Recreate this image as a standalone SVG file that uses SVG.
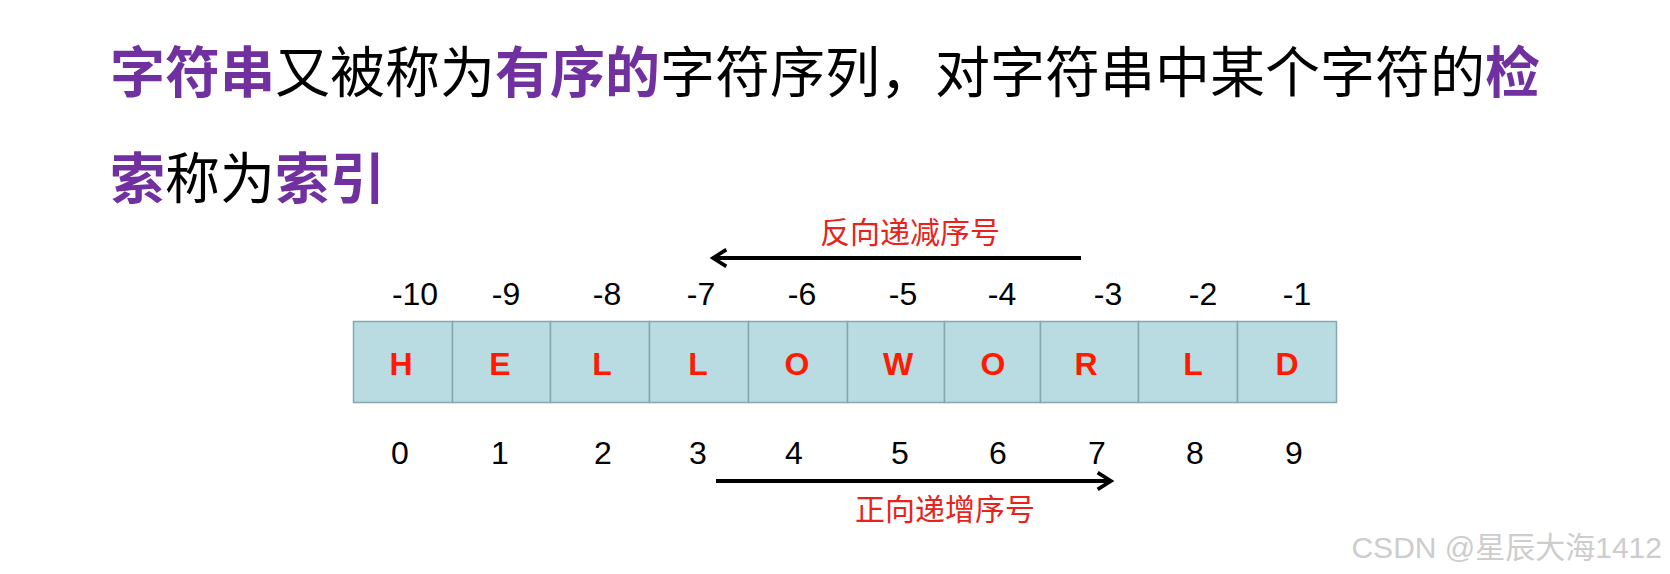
<svg xmlns="http://www.w3.org/2000/svg" width="1670" height="574" viewBox="0 0 1670 574">
<defs>
<style>
.title{font-family:"Noto Sans CJK SC","Noto Sans",sans-serif;font-size:55px;fill:#000}
.hl{fill:#7030A0;font-weight:bold}
.cell{fill:#B9DCE3;stroke:#87A6AE;stroke-width:1.5}
.ch{font-family:"Liberation Sans",Arial,sans-serif;font-size:32px;font-weight:bold;fill:#FF1A00;text-anchor:middle}
.num{font-family:"Liberation Sans",Arial,sans-serif;font-size:32px;fill:#000;text-anchor:middle}
.lbl{font-family:"Noto Sans CJK SC",sans-serif;font-size:30px;fill:#E8231B;text-anchor:middle}
.arr{stroke:#000;stroke-width:4;fill:none}
.wm{font-family:"Liberation Sans","Noto Sans CJK SC",sans-serif;font-size:30px;fill:#CDCDCD;text-anchor:end}
</style>
<marker id="ah" viewBox="0 0 12 12" refX="10" refY="6" markerWidth="5" markerHeight="5" orient="auto" markerUnits="strokeWidth">
<path d="M2,1 L10,6 L2,11" fill="none" stroke="#000" stroke-width="2.2"/>
</marker>
</defs>
<rect width="1670" height="574" fill="#fff"/>
<g id="title">
<text class="title" x="110" y="92"><tspan class="hl">字符串</tspan>又被称为<tspan class="hl">有序的</tspan>字符序列，对字符串中某个字符的<tspan class="hl">检</tspan></text>
<text class="title" x="110" y="198"><tspan class="hl">索</tspan>称为<tspan class="hl">索引</tspan></text>
</g>
<g id="cells">
<rect class="cell" x="353.5" y="321.5" width="99" height="81"/>
<rect class="cell" x="452.5" y="321.5" width="98" height="81"/>
<rect class="cell" x="550.5" y="321.5" width="99" height="81"/>
<rect class="cell" x="649.5" y="321.5" width="99" height="81"/>
<rect class="cell" x="748.5" y="321.5" width="99" height="81"/>
<rect class="cell" x="847.5" y="321.5" width="97" height="81"/>
<rect class="cell" x="944.5" y="321.5" width="96" height="81"/>
<rect class="cell" x="1040.5" y="321.5" width="98" height="81"/>
<rect class="cell" x="1138.5" y="321.5" width="99" height="81"/>
<rect class="cell" x="1237.5" y="321.5" width="99" height="81"/>
</g>
<g id="letters">
<text class="ch" x="401" y="375">H</text>
<text class="ch" x="500" y="375">E</text>
<text class="ch" x="602" y="375">L</text>
<text class="ch" x="698" y="375">L</text>
<text class="ch" x="797" y="375">O</text>
<text class="ch" x="898" y="375">W</text>
<text class="ch" x="993" y="375">O</text>
<text class="ch" x="1086" y="375">R</text>
<text class="ch" x="1193" y="375">L</text>
<text class="ch" x="1287" y="375">D</text>
</g>
<g id="neg-index">
<text class="num" x="415" y="305">-10</text>
<text class="num" x="506" y="305">-9</text>
<text class="num" x="607" y="305">-8</text>
<text class="num" x="701" y="305">-7</text>
<text class="num" x="802" y="305">-6</text>
<text class="num" x="903" y="305">-5</text>
<text class="num" x="1002" y="305">-4</text>
<text class="num" x="1108" y="305">-3</text>
<text class="num" x="1203" y="305">-2</text>
<text class="num" x="1297" y="305">-1</text>
</g>
<g id="pos-index">
<text class="num" x="400" y="464">0</text>
<text class="num" x="500" y="464">1</text>
<text class="num" x="603" y="464">2</text>
<text class="num" x="698" y="464">3</text>
<text class="num" x="794" y="464">4</text>
<text class="num" x="900" y="464">5</text>
<text class="num" x="998" y="464">6</text>
<text class="num" x="1097" y="464">7</text>
<text class="num" x="1195" y="464">8</text>
<text class="num" x="1294" y="464">9</text>
</g>
<g id="connectors">
<line class="arr" x1="1081" y1="258" x2="713" y2="258" marker-end="url(#ah)"/>
<line class="arr" x1="716" y1="481" x2="1111" y2="481" marker-end="url(#ah)"/>
</g>
<g id="labels">
<text class="lbl" x="910" y="243">反向递减序号</text>
<text class="lbl" x="945" y="520">正向递增序号</text>
</g>
<g id="watermark">
<text class="wm" x="1662" y="558">CSDN @星辰大海1412</text>
</g>
</svg>
